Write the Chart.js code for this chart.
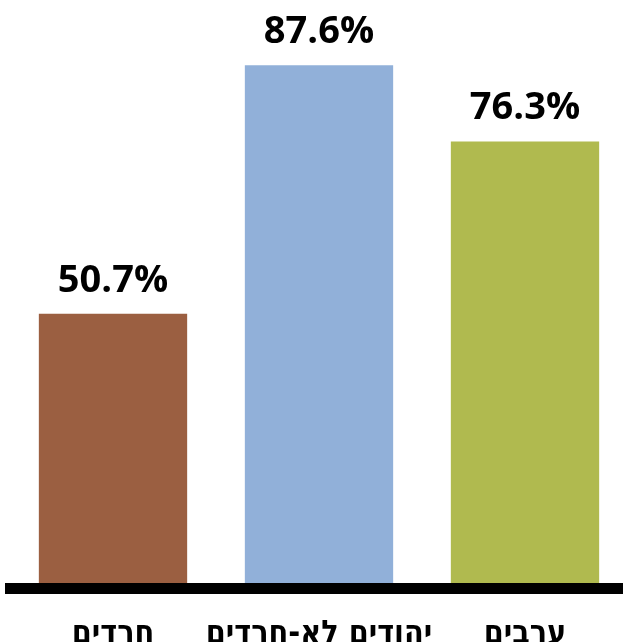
<!DOCTYPE html>
<html lang="he">
<head>
  <meta charset="UTF-8">
  <title>Bar chart</title>
  <style>
    html, body {
      margin: 0;
      padding: 0;
      overflow: hidden;
      background: #fff;
    }
    #wrap {
      width: 630px;
      height: 680px;
    }
  </style>
</head>
<body>
  <div id="wrap">
    <canvas id="barChart" width="630" height="680"></canvas>
  </div>

  <script src="https://cdn.jsdelivr.net/npm/chart.js"></script>
  <script>
    // Data
    var categories = ['חרדים', 'יהודים לא-חרדים', 'ערבים'];
    var values = [50.7, 87.6, 76.3];
    var barColors = ['#9B5F41', '#91B0D9', '#B0BA4F'];

    // Draw the percentage above every bar
    var valueLabels = {
      id: 'valueLabels',
      afterDatasetsDraw: function(chart) {
        var ctx = chart.ctx;
        var meta = chart.getDatasetMeta(0);
        ctx.save();
        ctx.font = 'bold 38px "Open Sans"';
        ctx.fillStyle = '#000';
        ctx.textAlign = 'center';
        ctx.textBaseline = 'alphabetic';
        meta.data.forEach(function(bar, i) {
          ctx.fillText(values[i].toFixed(1) + '%', bar.x, bar.y - 22);
        });
        ctx.restore();
      }
    };

    var ctx = document.getElementById('barChart').getContext('2d');
    new Chart(ctx, {
      type: 'bar',
      data: {
        labels: categories,
        datasets: [{
          data: values,
          backgroundColor: barColors,
          borderWidth: 0,
          barPercentage: 0.72,
          categoryPercentage: 1
        }]
      },
      options: {
        responsive: false,
        animation: false,
        devicePixelRatio: 1,
        layout: {
          padding: { left: 10, right: 2, top: 0, bottom: 0 }
        },
        plugins: {
          legend: { display: false },
          tooltip: { enabled: false }
        },
        scales: {
          x: {
            grid: { display: false, drawTicks: false },
            border: { display: true, color: '#000', width: 11, z: 1 },
            ticks: {
              color: '#000',
              padding: 27,
              maxRotation: 0,
              minRotation: 0,
              autoSkip: false,
              font: { family: '"DejaVu Sans Condensed", "DejaVu Sans"', size: 32, weight: 'bold' }
            },
            afterFit: function(scale) {
              scale.height = 92;
              scale.paddingLeft = 0;
              scale.paddingRight = 0;
            }
          },
          y: {
            display: false,
            min: 10,
            max: 97.3
          }
        }
      },
      plugins: [valueLabels]
    });
  </script>
</body>
</html>
